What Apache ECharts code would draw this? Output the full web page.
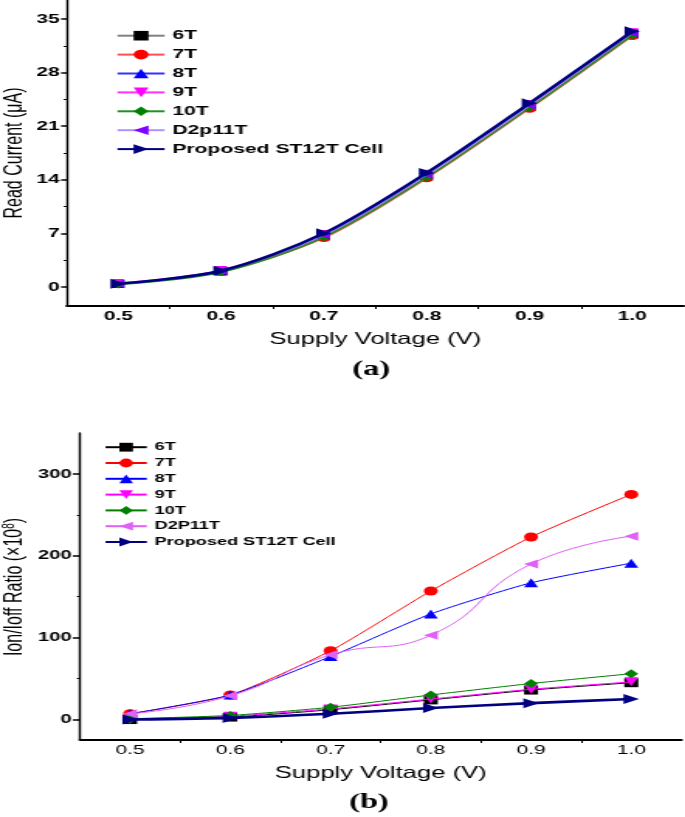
<!DOCTYPE html>
<html><head><meta charset="utf-8">
<script src="https://cdn.jsdelivr.net/npm/echarts@6/dist/echarts.min.js"></script>
<style>
html,body{margin:0;padding:0;background:#fff;overflow:hidden;width:685px;height:817px}
#c{width:442px;height:817px;transform:scaleX(1.55);transform-origin:0 0}
</style>
</head><body><div id="c"></div>
<script>
// ---------- data ----------
const voltages = [0.5, 0.6, 0.7, 0.8, 0.9, 1.0];
const xTickLabels = [0.5, 0.6, 0.7, 0.8, 0.9, 1.0];
const xMinorTicks = [0.55, 0.65, 0.75, 0.85, 0.95];

// (a) Read current (uA)
const readNames = ['6T', '7T', '8T', '9T', '10T', 'D2p11T', 'Proposed ST12T Cell'];
const read6T   = [0.4, 2.0, 6.6, 14.4, 23.5, 33.0];
const read7T   = [0.4, 2.0, 6.4, 14.2, 23.3, 32.8];
const read8T   = [0.4, 2.1, 6.8, 14.7, 23.8, 33.2];
const read9T   = [0.5, 2.2, 6.9, 14.8, 23.9, 33.3];
const read10T  = [0.3, 1.9, 6.5, 14.3, 23.4, 32.9];
const readD2p11T = [0.4, 2.1, 6.8, 14.7, 23.7, 33.2];
const readST12T  = [0.4, 2.1, 7.0, 14.9, 24.0, 33.4];
const readYTicks = [0, 7, 14, 21, 28, 35];
const readYMinor = [3.5, 10.5, 17.5, 24.5, 31.5];

// (b) Ion/Ioff ratio (x1e8)
const ratioNames = ['6T', '7T', '8T', '9T', '10T', 'D2P11T', 'Proposed ST12T Cell'];
const ratio6T   = [0, 3, 12, 24, 36, 45];
const ratio7T   = [7, 30, 84, 157, 223, 275];
const ratio8T   = [7, 30, 77, 129, 167, 191];
const ratio9T   = [0, 4, 13, 25, 37, 46];
const ratio10T  = [1, 5, 15, 30, 44, 56];
const ratioD2P11T = [7, 29, 79, 103, 190, 224];
const ratioST12T  = [0, 2, 7, 14, 20, 25];
const ratioYTicks = [0, 100, 200, 300];
const ratioYMinor = [50, 150, 250];

// ---------- styles ----------
const symbols = ['rect', 'circle', 'triangle', 'path://M0,0 L10,0 L5,10 Z', 'diamond',
  'path://M10,0 L10,10 L0,5 Z', 'path://M0,0 L10,5 L0,10 Z'];
const topLine = ['#808080', '#ff5050', '#3030ff', '#ff30ff', '#209020', '#b090ff', '#000080'];
const topMark = ['#000000', '#ff0000', '#0000ff', '#ff00ff', '#008000', '#8000ff', '#000080'];
const botLine = ['#000000', '#ff0000', '#0000ff', '#ff00ff', '#008000', '#e060f8', '#000080'];
const botMark = ['#000000', '#ff0000', '#0000ff', '#ff00ff', '#008000', '#e060f8', '#000080'];

const readData = [read6T, read7T, read8T, read9T, read10T, readD2p11T, readST12T];
const ratioData = [ratio6T, ratio7T, ratio8T, ratio9T, ratio10T, ratioD2P11T, ratioST12T];

const FF = 'Liberation Sans';
const nameStyle = {fontFamily: FF, fontSize: 16.5, color: '#000'};

function xAxes(gi, bold) {
  return [
    {type: 'value', gridIndex: gi, min: 0.45, max: 1.05,
     axisLine: {show: true, onZero: false, lineStyle: {color: '#000', width: 2}},
     axisTick: {show: false},
     axisLabel: {show: true, customValues: xTickLabels, margin: 3,
       fontFamily: FF, fontWeight: bold ? 'bold' : 'normal', fontSize: 13.5, color: '#000',
       formatter: v => v.toFixed(1)},
     splitLine: {show: false},
     name: 'Supply Voltage (V)', nameLocation: 'middle', nameGap: 25, nameTextStyle: nameStyle},
    {type: 'value', gridIndex: gi, min: 0.45, max: 1.05, position: 'bottom',
     axisLine: {show: false, onZero: false},
     axisTick: {show: true, customValues: xMinorTicks, length: 3, lineStyle: {color: '#000', width: 1}},
     axisLabel: {show: false}, splitLine: {show: false}}
  ];
}
function yAxes(gi, min, max, ticks, minor, tickLen, margin, fs) {
  return [
    {type: 'value', gridIndex: gi, min: min, max: max,
     axisLine: {show: true, onZero: false, lineStyle: {color: '#000', width: 1.4}},
     axisTick: {show: true, customValues: ticks, length: tickLen, lineStyle: {color: '#000', width: 1.5}},
     axisLabel: {show: true, customValues: ticks, margin: margin,
       fontFamily: FF, fontWeight: 'bold', fontSize: fs, color: '#000'},
     splitLine: {show: false}},
    {type: 'value', gridIndex: gi, min: min, max: max, position: 'left',
     axisLine: {show: false, onZero: false},
     axisTick: {show: true, customValues: minor, length: 2, lineStyle: {color: '#000', width: 1}},
     axisLabel: {show: false}, splitLine: {show: false}}
  ];
}

const series = [];
readNames.forEach((n, i) => {
  const last = i === readNames.length - 1;
  series.push({
    name: n, type: 'line', xAxisIndex: 0, yAxisIndex: 0, smooth: 0.3,
    data: voltages.map((v, k) => [v, readData[i][k]]),
    symbol: symbols[i], symbolSize: last ? 10 : 8,
    lineStyle: {color: topLine[i], width: last ? 2.6 : 1.3},
    itemStyle: {color: topMark[i]}, z: 2 + i
  });
});
ratioNames.forEach((n, i) => {
  const last = i === ratioNames.length - 1;
  series.push({
    name: n + ' ', type: 'line', xAxisIndex: 2, yAxisIndex: 2, smooth: i === 5 ? 0.5 : 0.2,
    data: voltages.map((v, k) => [v, ratioData[i][k]]),
    symbol: symbols[i], symbolSize: last ? 10 : 9,
    lineStyle: {color: botLine[i], width: last ? 2.6 : 1},
    itemStyle: {color: botMark[i]}, z: 2 + i
  });
});

const chart = echarts.init(document.getElementById('c'), null, {renderer: 'canvas'});
chart.setOption({
  animation: false,
  backgroundColor: '#fff',
  grid: [
    {left: 43.1, top: 0, width: 398, height: 306, outerBoundsMode: 'none', containLabel: false},
    {left: 51.6, top: 433, width: 388, height: 307, outerBoundsMode: 'none', containLabel: false}
  ],
  xAxis: [...xAxes(0, true), ...xAxes(1, false)],
  yAxis: [...yAxes(0, -2.5, 37.5, readYTicks, readYMinor, 3.7, 4.5, 13.5),
          ...yAxes(1, -25, 350, ratioYTicks, ratioYMinor, 4.6, 5.3, 13)],
  legend: [
    {data: readNames, orient: 'vertical', left: 74.8, top: 28.7, padding: 0, itemWidth: 30.4, itemHeight: 12, itemGap: 4.9,
     textStyle: {fontFamily: FF, fontWeight: 'bold', fontSize: 13.6, color: '#000'}},
    {data: ratioNames.map(n => n + ' '), orient: 'vertical', left: 67.1, top: 441.2, padding: 0, itemWidth: 26.6, itemHeight: 11, itemGap: 3.8,
     formatter: n => n.trim(),
     textStyle: {fontFamily: FF, fontWeight: 'bold', fontSize: 11.7, color: '#000'}}
  ],
  graphic: [
    {type: 'text', x: 10, y: 153, rotation: Math.PI / 2,
     style: {text: 'Read Current (μA)', font: '16px "Liberation Sans"', fill: '#000', align: 'center', verticalAlign: 'middle'}},
    {type: 'text', x: 10, y: 587, rotation: Math.PI / 2,
     style: {text: '{n|Ion/Ioff Ratio (×10}{sup|8}{n|)}', fill: '#000', align: 'center', verticalAlign: 'middle',
       rich: {n: {fontFamily: FF, fontSize: 16, fill: '#000'},
              sup: {fontFamily: FF, fontSize: 10, fill: '#000', verticalAlign: 'bottom', padding: [0, 0, 8, 0]}}}},
    {type: 'text', x: 239.5, y: 370, style: {text: '(a)', font: 'bold 21px "Liberation Serif"', fill: '#000', align: 'center', verticalAlign: 'middle'}},
    {type: 'text', x: 238, y: 803, style: {text: '(b)', font: 'bold 21px "Liberation Serif"', fill: '#000', align: 'center', verticalAlign: 'middle'}}
  ],
  series: series
});
</script>
</body></html>
